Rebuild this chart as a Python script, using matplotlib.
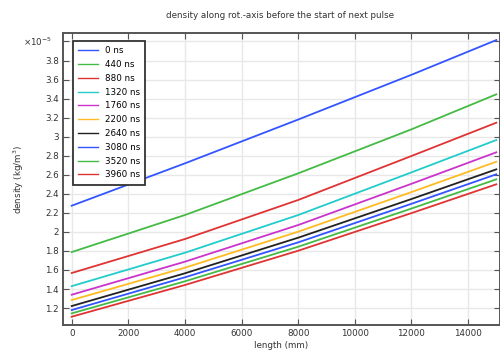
import numpy as np
import matplotlib
matplotlib.use("Agg")
import matplotlib.pyplot as plt

# length along rot.-axis (mm)
length = [0, 4000, 8000, 12000, 15000]

# density in units of 1e-5 kg/m^3
d_0 = [2.275, 2.72, 3.18, 3.65, 4.015]
d_440 = [1.788, 2.177, 2.615, 3.077, 3.445]
d_880 = [1.568, 1.925, 2.335, 2.797, 3.147]
d_1320 = [1.43, 1.781, 2.177, 2.625, 2.965]
d_1760 = [1.34, 1.687, 2.072, 2.505, 2.836]
d_2200 = [1.284, 1.624, 2.002, 2.418, 2.737]
d_2640 = [1.221, 1.565, 1.939, 2.345, 2.657]
d_3080 = [1.179, 1.523, 1.89, 2.295, 2.605]
d_3520 = [1.144, 1.481, 1.844, 2.245, 2.552]
d_3960 = [1.109, 1.442, 1.802, 2.197, 2.50]

series = [d_0, d_440, d_880, d_1320, d_1760, d_2200, d_2640, d_3080, d_3520, d_3960]
labels = ['0 ns', '440 ns', '880 ns', '1320 ns', '1760 ns',
          '2200 ns', '2640 ns', '3080 ns', '3520 ns', '3960 ns']
colors = ['#3355ff', '#44bb44', '#e03333', '#22cccc', '#cc33cc',
          '#ffbb22', '#222222', '#3355ff', '#44bb44', '#e03333']

xticks = [0, 2000, 4000, 6000, 8000, 10000, 12000, 14000]
yticks = [1.2, 1.4, 1.6, 1.8, 2.0, 2.2, 2.4, 2.6, 2.8, 3.0, 3.2, 3.4, 3.6, 3.8, 4.0]


def main():
    plt.rcParams['font.family'] = 'DejaVu Sans'
    fs = 6.3
    fig = plt.figure(figsize=(5.0, 3.52), dpi=100)
    ax = fig.add_axes([0.126, 0.0767, 0.874, 0.8295])

    for vals, lab, c in zip(series, labels, colors):
        ax.plot(length, vals, color=c, lw=1.3, label=lab)

    ax.set_xlim(-307, 15130)
    ax.set_ylim(1.022, 4.089)
    ax.set_xticks(xticks)
    ax.set_xticklabels([str(t) for t in xticks])
    ax.set_yticks(yticks)
    # top tick label is replaced by the exponent in the reference
    ax.set_yticklabels(['%g' % t for t in yticks[:-1]] + [''])
    ax.text(-0.025, 4.0, r'$\times10^{-5}$', transform=ax.get_yaxis_transform(),
            ha='right', va='center', fontsize=fs, color='#333333')

    ax.grid(True, color='#e8e8e8', lw=1.0)
    ax.set_axisbelow(True)
    for s in ax.spines.values():
        s.set_color('#555555')
        s.set_linewidth(1.4)
    ax.tick_params(direction='in', length=4, width=0.8, color='#555555',
                   labelsize=fs, labelcolor='#333333', top=True, right=True,
                   pad=3)

    ax.set_xlabel('length (mm)', fontsize=fs, color='#333333', labelpad=2)
    ax.set_ylabel('density (kg/m$^3$)', fontsize=fs, color='#333333', labelpad=14)
    fig.text(0.56, 0.955, 'density along rot.-axis before the start of next pulse',
             ha='center', va='center', fontsize=fs, color='#333333')

    leg = ax.legend(loc='upper left', bbox_to_anchor=(0.023, 0.973),
                    borderaxespad=0, fontsize=fs, handlelength=2.2,
                    labelspacing=0.55, fancybox=False, framealpha=1,
                    borderpad=0.6, handletextpad=0.8)
    leg.get_frame().set_edgecolor('#333333')
    leg.get_frame().set_linewidth(1.3)
    for h in leg.get_lines():
        h.set_linewidth(1.0)

    fig.savefig('out.png', dpi=100)


if __name__ == '__main__':
    main()
